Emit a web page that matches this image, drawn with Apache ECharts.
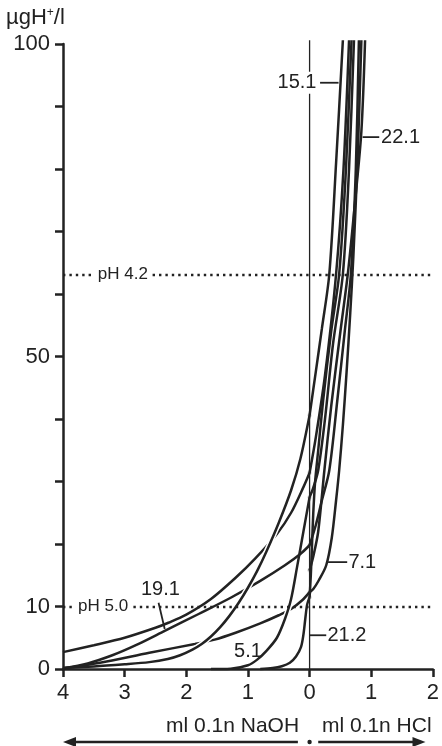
<!DOCTYPE html>
<html>
<head>
<meta charset="utf-8">
<script src="https://cdn.jsdelivr.net/npm/echarts@6/dist/echarts.min.js"></script>
<style>
  html, body { margin: 0; padding: 0; background: #fff; }
  #chart { width: 442px; height: 746px; }
</style>
</head>
<body>
<div id="chart"></div>
<script>
// titration curves: x < 0 = ml 0.1n NaOH, x > 0 = ml 0.1n HCl, y = µg H+/l
var naohTop = [[-4,2.7],[-3.5,3.8],[-3,5.0],[-2.5,6.6],[-2.29,7.4],[-2,8.7],[-1.6,11.2],[-1.2,14.6],[-0.88,17.7],[-0.53,21.6],[-0.3,25.0],[-0.1,29.1],[0,31.4]];
var hclTop = [[0,31.4],[0.1,37],[0.25,47],[0.43,63.2],[0.55,80],[0.64,100.6]];

var naoh19_1 = [[-4,0.1],[-3.6,0.9],[-3.2,2.2],[-2.8,3.9],[-2.35,6.1],[-1.8,8.8],[-1.28,11.4],[-0.8,14.1],[-0.4,16.6],[-0.15,18.4],[0,19.8]];
var hcl19_1 = [[0,19.8],[0.1,23],[0.2,27],[0.32,31.8],[0.45,43],[0.57,54],[0.67,63.2],[0.75,80],[0.8,100.6]];

var naoh7_1 = [[-4,0.1],[-3.4,1.0],[-2.6,2.6],[-1.86,4.0],[-1.54,4.7],[-1.2,5.8],[-0.8,7.3],[-0.5,8.6],[-0.3,9.6],[-0.12,11],[0,12.3]];
var hcl7_1 = [[0,12.3],[0.06,12.8],[0.15,14.2],[0.27,16.6],[0.36,21],[0.43,27],[0.48,31.8],[0.54,39],[0.6,47.5],[0.66,57],[0.71,66],[0.78,82],[0.84,100.6]];

var naoh21_2 = [[-0.8,0],[-0.6,0.15],[-0.45,0.45],[-0.32,1.0],[-0.22,2.0],[-0.14,3.5],[-0.1,5.5],[-0.07,8],[-0.04,10.3],[0,11.5]];
var hcl21_2 = [[0,11.5],[0.02,15],[0.04,20],[0.06,25],[0.09,30],[0.14,35],[0.22,43],[0.35,54],[0.48,63.2],[0.59,80],[0.68,100.6]];

var hcl22_1 = [[0,15.8],[0.06,18],[0.14,22],[0.24,31.8],[0.35,42],[0.5,54],[0.62,63.2],[0.74,75],[0.84,86],[0.9,100.6]];

var naoh5_1 = [[-1.6,0],[-1.28,0.05],[-1.0,0.6],[-0.85,1.5],[-0.7,2.9],[-0.53,5.0],[-0.4,8],[-0.3,11.2],[-0.2,16.5],[-0.1,22],[0,27.5]];
var hcl5_1 = [[0,27.5],[0.06,29],[0.14,31.8],[0.25,40],[0.38,52],[0.54,63.2],[0.64,80],[0.72,100.6]];

var naoh15_1 = [[-4,0.2],[-3.5,0.4],[-3,0.75],[-2.6,1.1],[-2.3,1.6],[-2.1,2.2],[-1.9,3.1],[-1.75,4.0],[-1.6,5.2],[-1.45,6.7],[-1.3,8.5],[-1.15,10.6],[-1.0,13.0],[-0.85,15.7],[-0.7,18.8],[-0.5,23.4],[-0.3,28.6],[-0.15,33.6],[0,40.6]];
var hcl15_1 = [[0,40.6],[0.1,47.5],[0.2,54.5],[0.32,63.2],[0.43,81],[0.54,100.6]];

var zeroLine = [[0,0],[0,100.6]];
var yLabelValues = [0, 10, 50, 100];
var phLevels = [63.1, 10];
var phNames = ['pH 4.2', 'pH 5.0'];

var INK = '#222';
var FONT = '"Liberation Sans", Arial, sans-serif';

// draw order matters: curves with cut=true leave a gap in the ones drawn before
var samples = [
  { name: '', naoh: naohTop, hcl: hclTop },
  { name: '19.1', naoh: naoh19_1, hcl: hcl19_1 },
  { name: '7.1', naoh: naoh7_1, hcl: hcl7_1 },
  { name: '21.2', naoh: naoh21_2, hcl: hcl21_2 },
  { name: '22.1', naoh: [], hcl: hcl22_1 },
  { name: '5.1', naoh: naoh5_1, hcl: hcl5_1, cut: true },
  { name: '15.1', naoh: naoh15_1, hcl: hcl15_1, cut: true }
];

var chart = echarts.init(document.getElementById('chart'));

var series = [{
  type: 'line',
  data: zeroLine,
  symbol: 'none',
  silent: true,
  clip: false,
  lineStyle: { color: INK, width: 1.3 },
  markLine: {
    silent: true,
    symbol: ['none', 'none'],
    label: { show: false },
    lineStyle: { color: INK, width: 2.4, type: [2.4, 4] },
    data: phLevels.map(function (v) { return { yAxis: v }; })
  }
}];

var lineBase = { type: 'line', symbol: 'none', smooth: 0.3, clip: false };

samples.forEach(function (s) {
  if (s.naoh.length) {
    if (s.cut) {
      series.push(Object.assign({}, lineBase, {
        silent: true,
        data: s.naoh.filter(function (p) { return p[0] > -2.2 && p[0] < -0.1 && p[1] > 2; }),
        lineStyle: { color: '#fff', width: 5.5 }
      }));
    }
    series.push(Object.assign({}, lineBase, { data: s.naoh, lineStyle: { color: INK, width: 2.5 } }));
  }
  series.push(Object.assign({}, lineBase, { data: s.hcl, lineStyle: { color: INK, width: 2.5 } }));
});

series.push({
  type: 'scatter',
  data: samples.map(function (s) { return s.hcl[0]; }),
  symbolSize: 4.5,
  itemStyle: { color: INK, borderColor: '#fff', borderWidth: 2.5 }
});

chart.setOption({
  animation: false,
  backgroundColor: '#fff',
  grid: { left: 63, right: 6, top: 44, bottom: 77 },
  xAxis: {
    type: 'value', min: -4, max: 2, interval: 1,
    axisLine: { onZero: false, lineStyle: { color: INK, width: 2.5 } },
    axisTick: { length: 8, lineStyle: { color: INK, width: 2.5 } },
    axisLabel: {
      color: INK, fontFamily: FONT, fontSize: 22, margin: 13,
      formatter: function (v) { return Math.abs(v); }
    },
    splitLine: { show: false }
  },
  yAxis: {
    type: 'value', min: 0, max: 100, interval: 10,
    axisLine: { show: true, onZero: false, lineStyle: { color: INK, width: 2.5 } },
    axisTick: { show: true, length: 8, lineStyle: { color: INK, width: 2.5 } },
    axisLabel: {
      color: INK, fontFamily: FONT, fontSize: 22, margin: 13,
      formatter: function (v) { return yLabelValues.indexOf(v) >= 0 ? v : ''; }
    },
    splitLine: { show: false }
  },
  series: series
});

function px(x, y) { return chart.convertToPixel({ gridIndex: 0 }, [x, y]); }

var graphics = [];

function text(str, p, align, size, bg) {
  graphics.push({
    type: 'text', x: p[0], y: p[1], z: 100,
    style: {
      text: str, fill: INK, font: size + 'px ' + FONT,
      align: align, verticalAlign: 'middle',
      backgroundColor: bg ? '#fff' : null, padding: bg ? [1, 3] : 0
    }
  });
}
function seg(a, b, w) {
  graphics.push({
    type: 'line', z: 100,
    shape: { x1: a[0], y1: a[1], x2: b[0], y2: b[1] },
    style: { stroke: INK, lineWidth: w || 1.8 }
  });
}

// y title
graphics.push({
  type: 'text', x: 6, y: 7, z: 100,
  style: {
    text: '{a|µgH}{s|+}{a|/l}',
    rich: {
      a: { fontFamily: FONT, fontSize: 22, fill: INK },
      s: { fontFamily: FONT, fontSize: 12, fill: INK, verticalAlign: 'top', padding: [0, 0, 10, 0] }
    }
  }
});

// pH labels on dotted lines
text(phNames[0], px(-3.03, phLevels[0]), 'center', 17, true);
text(phNames[1], px(-3.35, phLevels[1]), 'center', 17, true);

// curve labels with leaders
text('15.1', px(0.16, 93.8), 'right', 20, true);
seg(px(0.17, 93.8), px(0.47, 93.8));
seg(px(0.86, 85.1), px(1.13, 85.1));
text('22.1', px(1.16, 85.1), 'left', 20, false);
seg(px(0.3, 17.1), px(0.61, 17.1));
text('7.1', px(0.63, 17.1), 'left', 20, false);
seg(px(0.0, 5.4), px(0.27, 5.4));
text('21.2', px(0.29, 5.4), 'left', 20, false);
text('19.1', px(-2.42, 12.8), 'center', 20, false);
seg(px(-2.45, 10.6), px(-2.35, 6.4));
text('5.1', px(-1.0, 2.8), 'center', 20, false);

// bottom captions and arrows
var ya = 742;
text('ml 0.1n NaOH', [px(-0.17, 0)[0], 726], 'right', 21, false);
text('ml 0.1n HCl', [px(0.2, 0)[0], 726], 'left', 21, false);
var xl = px(-4, 0)[0], xr1 = px(-0.19, 0)[0], x0 = px(0, 0)[0], xr0 = px(0.14, 0)[0], xr = px(1.88, 0)[0];
seg([xl + 10, ya], [xr1, ya], 2.5);
seg([xr0, ya], [xr - 10, ya], 2.5);
graphics.push({ type: 'polygon', z: 100, shape: { points: [[xl, ya], [xl + 13, ya - 5], [xl + 13, ya + 5]] }, style: { fill: INK } });
graphics.push({ type: 'polygon', z: 100, shape: { points: [[xr, ya], [xr - 13, ya - 5], [xr - 13, ya + 5]] }, style: { fill: INK } });
graphics.push({ type: 'circle', z: 100, shape: { cx: x0, cy: ya, r: 2.2 }, style: { fill: INK } });

chart.setOption({ graphic: graphics });
</script>
</body>
</html>
